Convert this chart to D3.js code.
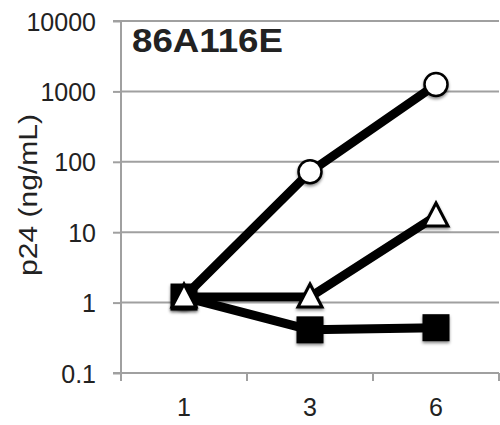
<!DOCTYPE html>
<html>
<head>
    <script src="https://cdn.jsdelivr.net/npm/d3@7"></script>
    <style>
        body { margin: 0; background: #fff; }
        text { font-family: "Liberation Sans", Arial, sans-serif; fill: #222; }
    </style>
</head>
<body>
    <svg width="500" height="425"></svg>
    <script>
        const categories = ['1', '3', '6']
        const circleValues = [1.2, 72, 1250]
        const triangleValues = [1.2, 1.2, 17]
        const squareValues = [1.2, 0.41, 0.44]
        const yTicks = [0.1, 1, 10, 100, 1000, 10000]
        const title = '86A116E'
        const yLabel = 'p24 (ng/mL)'

        const svg = d3.select('svg')
        const plotLeft = 121, plotRight = 499, plotTop = 21, plotBottom = 373
        const GRID = '#a0a0a0'
        const FONT = 25

        const x = d3.scaleBand().domain(categories).range([plotLeft, plotRight])
        const y = d3.scaleLog().domain([0.1, 10000]).range([plotBottom, plotTop])

        const defs = svg.append('defs')
        const f = defs.append('filter').attr('id', 'shadow')
            .attr('x', '-50%').attr('y', '-50%').attr('width', '200%').attr('height', '200%')
        f.append('feDropShadow').attr('dx', 0).attr('dy', 2).attr('stdDeviation', 1.5)
            .attr('flood-color', '#000').attr('flood-opacity', 0.45)

        // gridlines
        svg.append('g').selectAll('line').data(yTicks.slice(1)).join('line')
            .attr('x1', plotLeft).attr('x2', plotRight)
            .attr('y1', d => y(d)).attr('y2', d => y(d))
            .attr('stroke', GRID).attr('stroke-width', 2)

        // y axis
        const yAxis = svg.append('g').attr('transform', `translate(${plotLeft},0)`)
            .call(d3.axisLeft(y).tickValues(yTicks).tickFormat(d => d < 1 ? d3.format('.1f')(d) : d3.format('d')(d)).tickSize(8).tickPadding(17))
        yAxis.attr('font-size', FONT)
        yAxis.select('.domain').attr('stroke', GRID).attr('stroke-width', 2).attr('d', `M-8,${plotTop}H0V${plotBottom}H-8`)
        yAxis.selectAll('.tick line').attr('stroke', GRID).attr('stroke-width', 2)
        yAxis.selectAll('.tick text').attr('fill', '#222').attr('dy', '0.36em')
            .style('font-family', '"Liberation Sans", Arial, sans-serif')

        // x axis
        const xAxis = svg.append('g').attr('transform', `translate(0,${plotBottom})`)
            .call(d3.axisBottom(x).tickSize(0).tickPadding(25))
        xAxis.attr('font-size', FONT)
        xAxis.select('.domain').attr('stroke', GRID).attr('stroke-width', 2).attr('d', `M${plotLeft},0H${plotRight}`)
        xAxis.selectAll('.tick text').attr('fill', '#222')
            .style('font-family', '"Liberation Sans", Arial, sans-serif')
        const bounds = [plotLeft].concat(categories.map(c => x(c) + x.bandwidth()))
        svg.append('g').selectAll('line').data(bounds).join('line')
            .attr('x1', d => d).attr('x2', d => d)
            .attr('y1', plotBottom).attr('y2', plotBottom + 8)
            .attr('stroke', GRID).attr('stroke-width', 2)

        // axis title
        svg.append('text')
            .attr('transform', `translate(37,195) rotate(-90)`)
            .attr('text-anchor', 'middle').attr('font-size', 26)
            .attr('textLength', 162).attr('lengthAdjust', 'spacingAndGlyphs')
            .text(yLabel)

        // chart title
        svg.append('text').attr('x', 132).attr('y', 52)
            .attr('font-size', 34).attr('font-weight', 'bold').attr('fill', '#222')
            .attr('textLength', 151).attr('lengthAdjust', 'spacingAndGlyphs')
            .text(title)

        const cx = c => x(c) + x.bandwidth() / 2
        const line = d3.line().x(d => cx(d.c)).y(d => y(d.v))

        const series = [
            { values: circleValues, shape: 'circle' },
            { values: squareValues, shape: 'square' },
            { values: triangleValues, shape: 'triangle' }
        ]

        series.forEach(s => {
            const pts = categories.map((c, i) => ({ c, v: s.values[i] }))
            const g = svg.append('g')
            g.append('path').datum(pts).attr('d', line)
                .attr('fill', 'none').attr('stroke', '#000').attr('stroke-width', 9)
                .attr('stroke-linejoin', 'round')
            const m = g.selectAll('.marker').data(pts).join('g')
                .attr('class', 'marker')
                .attr('transform', d => `translate(${cx(d.c)},${y(d.v)})`)
                .attr('filter', 'url(#shadow)')
            if (s.shape === 'circle') {
                m.append('circle').attr('r', 11.5).attr('fill', '#fff').attr('stroke', '#000').attr('stroke-width', 2.5)
            } else if (s.shape === 'square') {
                m.append('rect').attr('x', -13.5).attr('y', -13.5).attr('width', 27).attr('height', 27).attr('fill', '#000')
            } else {
                m.append('path').attr('d', 'M0,-13L12,10H-12Z').attr('fill', '#fff')
                    .attr('stroke', '#000').attr('stroke-width', 3).attr('stroke-linejoin', 'miter')
            }
        })
    </script>
</body>
</html>
